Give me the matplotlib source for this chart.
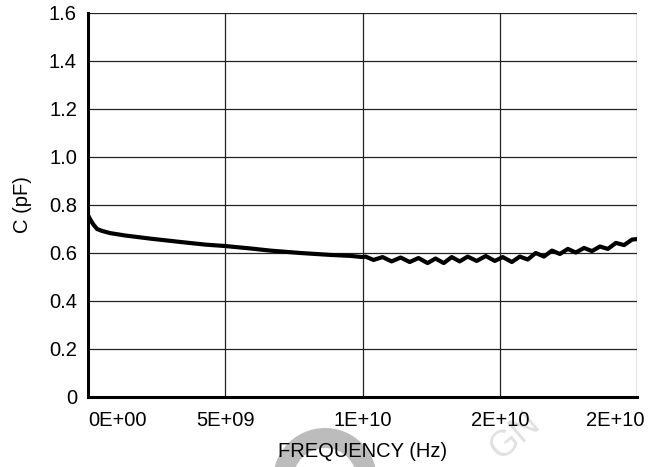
import matplotlib
matplotlib.use("Agg")
import matplotlib.pyplot as plt
import matplotlib.transforms as mtransforms
from matplotlib.patches import Wedge

# Frequency in GHz, capacitance in pF
freq_ghz = [0.0, 0.07, 0.18, 0.33, 0.51, 0.80, 1.35, 2.26, 3.36, 4.27, 5.0,
            5.91, 6.64, 7.74, 8.83, 9.56, 10.0,
            10.11, 10.40, 10.73, 11.06, 11.39, 11.72, 12.04, 12.37, 12.66,
            12.96, 13.25, 13.54, 13.83, 14.16, 14.49, 14.82, 15.11, 15.44,
            15.73, 16.02, 16.31, 16.61, 16.90, 17.19, 17.48, 17.77, 18.07,
            18.36, 18.65, 18.94, 19.23, 19.53, 19.82, 20.0]
cap_pf = [0.758, 0.742, 0.721, 0.700, 0.692, 0.683, 0.673, 0.660, 0.646,
          0.635, 0.629, 0.619, 0.610, 0.600, 0.592, 0.588, 0.583,
          0.585, 0.571, 0.583, 0.565, 0.581, 0.5625, 0.579, 0.558, 0.577,
          0.558, 0.583, 0.565, 0.585, 0.567, 0.5875, 0.567, 0.583, 0.5625,
          0.585, 0.573, 0.600, 0.585, 0.610, 0.596, 0.617, 0.602, 0.621,
          0.608, 0.627, 0.617, 0.642, 0.633, 0.656, 0.658]

x_ticks = [0, 5e9, 1e10, 1.5e10, 2e10]
x_ticklabels = ["0E+00", "5E+09", "1E+10", "2E+10", "2E+10"]
y_ticks = [0, 0.2, 0.4, 0.6, 0.8, 1.0, 1.2, 1.4, 1.6]
y_ticklabels = ["0", "0.2", "0.4", "0.6", "0.8", "1.0", "1.2", "1.4", "1.6"]

plt.rcParams['font.family'] = ['Liberation Sans', 'DejaVu Sans']

fig = plt.figure(figsize=(6.61, 4.67), dpi=100)
ax = fig.add_axes([88/661, 1-397/467, (637-88)/661, (397-13)/467])

# faint watermark pieces (inch coordinates)
fig.patches.append(Wedge((3.25, -0.13), 0.52, 0, 180, width=0.20,
                         facecolor='#bcbcbc', edgecolor='none',
                         transform=fig.dpi_scale_trans, zorder=-5))
fig.text(515/661, 1-436/467, "GN", fontsize=26, color='#e0e0e0',
         rotation=40, ha='center', va='center', zorder=-5)

freq_hz = [f*1e9 for f in freq_ghz]
ax.plot(freq_hz, cap_pf, color='black', lw=3.0, solid_capstyle='round',
        solid_joinstyle='round', zorder=3)

ax.set_xlim(0, 2e10)
ax.set_ylim(0, 1.6)
ax.set_xticks(x_ticks)
ax.set_xticklabels(x_ticklabels)
ax.set_yticks(y_ticks)
ax.set_yticklabels(y_ticklabels)
ax.tick_params(axis='both', length=0, labelsize=14.5, colors='black')
ax.tick_params(axis='x', pad=10)
ax.tick_params(axis='y', pad=8)

labels = ax.get_xticklabels()
labels[0].set_horizontalalignment('left')
labels[-1].set_transform(labels[-1].get_transform() +
                         mtransforms.ScaledTranslation(-22/100, 0, fig.dpi_scale_trans))

ax.grid(True, color='#222222', lw=0.9)
ax.set_axisbelow(True)
for s in ['top', 'right']:
    ax.spines[s].set_visible(False)
for s in ['left', 'bottom']:
    ax.spines[s].set_linewidth(2.2)
    ax.spines[s].set_zorder(4)

ax.set_xlabel("FREQUENCY (Hz)", fontsize=14.5, labelpad=9)
ax.set_ylabel("C (pF)", fontsize=14.5, labelpad=12)

fig.savefig("out.png", dpi=100)
